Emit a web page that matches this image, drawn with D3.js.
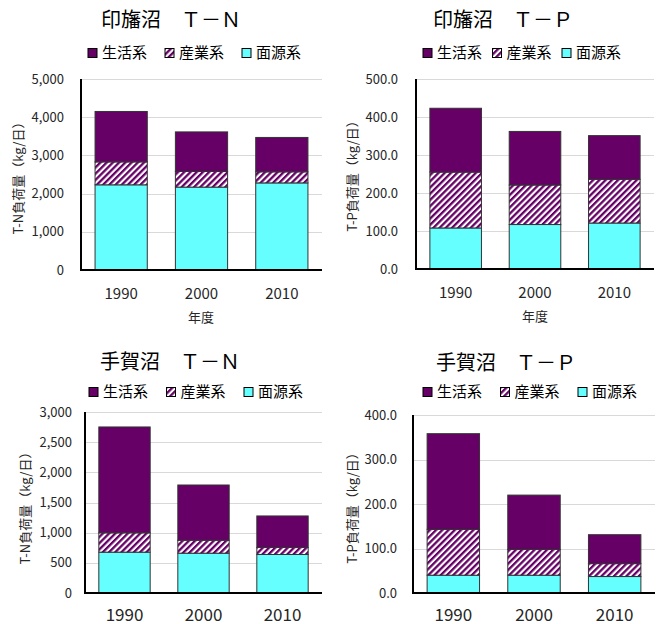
<!DOCTYPE html>
<html><head><meta charset="utf-8">
<script src="https://cdn.jsdelivr.net/npm/d3@7/dist/d3.min.js"></script>
<style>
html,body{margin:0;padding:0;background:#fff;}
svg{display:block;font-family:"Noto Sans CJK JP","Noto Sans",sans-serif;}
</style></head>
<body>
<svg id="chart" width="661" height="624"></svg>
<script>
// ---- data ----
const years = ["1990", "2000", "2010"];
const seriesNames = ["生活系", "産業系", "面源系"];
const stackKeys = ["面源系", "産業系", "生活系"]; // bottom -> top

const inbaTN_mengen = [2230, 2170, 2280];
const inbaTN_sangyo = [600, 410, 290];
const inbaTN_seikatsu = [1320, 1035, 900];

const inbaTP_mengen = [108, 117, 121];
const inbaTP_sangyo = [147, 104, 115];
const inbaTP_seikatsu = [168, 141, 115];

const teganumaTN_mengen = [677, 660, 638];
const teganumaTN_sangyo = [320, 215, 116];
const teganumaTN_seikatsu = [1755, 915, 523];

const teganumaTP_mengen = [40, 40, 37];
const teganumaTP_sangyo = [103, 58, 29];
const teganumaTP_seikatsu = [215, 122, 65];

const ticksTN1 = [0, 1000, 2000, 3000, 4000, 5000];
const ticksTP1 = [0, 100, 200, 300, 400, 500];
const ticksTN2 = [0, 500, 1000, 1500, 2000, 2500, 3000];
const ticksTP2 = [0, 100, 200, 300, 400];

const titles = ["印旛沼　Ｔ－Ｎ", "印旛沼　Ｔ－Ｐ", "手賀沼　Ｔ－Ｎ", "手賀沼　Ｔ－Ｐ"];
const yTitles = ["T-N負荷量（kg/日）", "T-P負荷量（kg/日）", "T-N負荷量（kg/日）", "T-P負荷量（kg/日）"];
const xTitle = "年度";

// ---- styles ----
const colors = {"生活系": "#660066", "産業系": "url(#hatch)", "面源系": "#66FFFF"};

const svg = d3.select("#chart");
const defs = svg.append("defs");
const pat = defs.append("pattern").attr("id", "hatch").attr("patternUnits", "userSpaceOnUse")
  .attr("width", 4.4).attr("height", 4.4).attr("patternTransform", "rotate(45)");
pat.append("rect").attr("width", 4.4).attr("height", 4.4).attr("fill", "#fff");
pat.append("rect").attr("width", 2.3).attr("height", 4.4).attr("fill", "#660066");

function rows(m, s, k) {
  return years.map((y, i) => ({year: y, "面源系": m[i], "産業系": s[i], "生活系": k[i]}));
}

const panels = [
  {data: rows(inbaTN_mengen, inbaTN_sangyo, inbaTN_seikatsu), ticks: ticksTN1, fmt: d3.format(","),
   L: 81, R: 322, T: 79, B: 270, title: titles[0], tx: 171, ty: 27, yTitle: yTitles[0], ytx: 18, yty: 175,
   legX: 88, legStep: 77, legY: 53, tickEnd: 64, xTitle: true, xtx: 201, xfs: 15, xdy: 29},
  {data: rows(inbaTP_mengen, inbaTP_sangyo, inbaTP_seikatsu), ticks: ticksTP1, fmt: d3.format(".1f"),
   L: 416, R: 654, T: 79, B: 269, title: titles[1], tx: 503, ty: 27, yTitle: yTitles[1], ytx: 352, yty: 173,
   legX: 423, legStep: 69.5, legY: 53, tickEnd: 398, xTitle: true, xtx: 535, xfs: 15, xdy: 29},
  {data: rows(teganumaTN_mengen, teganumaTN_sangyo, teganumaTN_seikatsu), ticks: ticksTN2, fmt: d3.format(","),
   L: 85, R: 322, T: 412, B: 593, title: titles[2], tx: 170, ty: 369, yTitle: yTitles[2], ytx: 25, yty: 505,
   legX: 89, legStep: 77.5, legY: 392, tickEnd: 72, xTitle: false, xfs: 17, xdy: 28},
  {data: rows(teganumaTP_mengen, teganumaTP_sangyo, teganumaTP_seikatsu), ticks: ticksTP2, fmt: d3.format(".1f"),
   L: 413, R: 655, T: 415, B: 593, title: titles[3], tx: 506, ty: 370, yTitle: yTitles[3], ytx: 352, yty: 505,
   legX: 423, legStep: 77.5, legY: 392, tickEnd: 397, xTitle: false, xfs: 17, xdy: 28}
];

const stack = d3.stack().keys(stackKeys);

panels.forEach(p => {
  const g = svg.append("g");
  const x = d3.scaleBand().domain(years).range([p.L, p.R]).paddingInner(0.35).paddingOuter(0.175);
  const y = d3.scaleLinear().domain([0, d3.max(p.ticks)]).range([p.B, p.T]);

  // gridlines
  g.append("g").selectAll("line").data(p.ticks.filter(t => t > 0)).join("line")
    .attr("x1", p.L).attr("x2", p.R).attr("y1", d => Math.round(y(d)) + 0.5).attr("y2", d => Math.round(y(d)) + 0.5)
    .attr("stroke", "#d9d9d9").attr("stroke-width", 1);

  // y tick labels
  g.append("g").selectAll("text").data(p.ticks).join("text")
    .attr("x", p.tickEnd).attr("y", d => y(d)).attr("dy", "0.35em")
    .attr("text-anchor", "end").attr("font-size", 13).attr("fill", "#262626")
    .text(d => p.fmt(d));

  // bars
  const series = stack(p.data);
  g.append("g").selectAll("g").data(series).join("g")
    .attr("fill", d => colors[d.key])
    .selectAll("rect").data(d => d).join("rect")
    .attr("x", d => x(d.data.year)).attr("width", x.bandwidth())
    .attr("y", d => y(d[1])).attr("height", d => y(d[0]) - y(d[1]))
    .attr("stroke", "#333").attr("stroke-width", 1);

  // axes lines
  g.append("line").attr("x1", p.L).attr("x2", p.L).attr("y1", p.T).attr("y2", p.B + 1)
    .attr("stroke", "#000").attr("stroke-width", 2);
  g.append("line").attr("x1", p.L - 1).attr("x2", p.R).attr("y1", p.B).attr("y2", p.B)
    .attr("stroke", "#000").attr("stroke-width", 2);

  // x tick labels
  g.append("g").selectAll("text").data(years).join("text")
    .attr("x", d => x(d) + x.bandwidth() / 2).attr("y", p.B + p.xdy)
    .attr("text-anchor", "middle").attr("font-size", p.xfs).attr("fill", "#262626")
    .text(d => d);

  if (p.xTitle) {
    g.append("text").attr("x", p.xtx).attr("y", p.B + 52).attr("text-anchor", "middle")
      .attr("font-size", 13).attr("fill", "#262626").text(xTitle);
  }

  // y title
  g.append("text").attr("transform", `translate(${p.ytx},${p.yty}) rotate(-90)`)
    .attr("text-anchor", "middle").attr("dy", "0.35em").attr("font-size", 13).attr("fill", "#262626")
    .text(p.yTitle);

  // title
  g.append("text").attr("x", p.tx).attr("y", p.ty).attr("text-anchor", "middle")
    .attr("font-size", 20).attr("fill", "#000").text(p.title);

  // legend
  const leg = g.append("g").selectAll("g").data(seriesNames).join("g")
    .attr("transform", (d, i) => `translate(${p.legX + i * p.legStep},${p.legY})`);
  leg.append("rect").attr("x", 0).attr("y", -4.5).attr("width", 9).attr("height", 9)
    .attr("fill", d => colors[d]).attr("stroke", "#000").attr("stroke-width", 1);
  leg.append("text").attr("x", 14).attr("y", 0).attr("dy", "0.36em")
    .attr("font-size", 15).attr("fill", "#000").text(d => d);
});
</script>
</body></html>
